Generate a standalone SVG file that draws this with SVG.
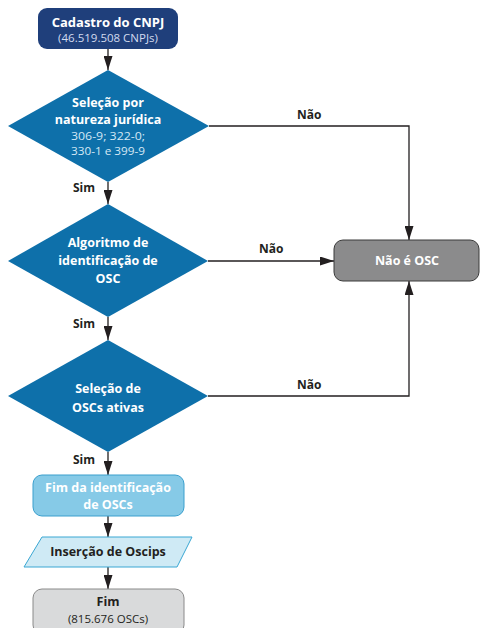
<svg xmlns="http://www.w3.org/2000/svg" width="480" height="628" viewBox="0 0 480 628">
<defs>
<style>
.t{font-family:"Open Sans","Noto Sans","Liberation Sans",sans-serif;text-anchor:middle}
.b{font-weight:bold}
.w{fill:#ffffff}
.k{fill:#231f20}
.lbl{font-family:"Open Sans","Noto Sans","Liberation Sans",sans-serif;font-weight:bold;font-size:12px;fill:#231f20}
.dia{fill:#0e70aa}
.line{fill:none;stroke:#231f20;stroke-width:1.3}
</style>
<marker id="ah" markerWidth="14" markerHeight="9" refX="14" refY="4.5" orient="auto" markerUnits="userSpaceOnUse">
<path d="M0,0 L14,4.5 L0,9 Z" fill="#231f20"/>
</marker>
</defs>
<rect width="480" height="628" fill="#ffffff"/>

<g id="connectors">
<path class="line" d="M108,49 V70" marker-end="url(#ah)"/>
<path class="line" d="M108,182 V204" marker-end="url(#ah)"/>
<path class="line" d="M108,317 V340" marker-end="url(#ah)"/>
<path class="line" d="M108,452 V475" marker-end="url(#ah)"/>
<path class="line" d="M108,516 V537" marker-end="url(#ah)"/>
<path class="line" d="M108,567 V589" marker-end="url(#ah)"/>
<path class="line" d="M209,126 H409 V240" marker-end="url(#ah)"/>
<path class="line" d="M208,261 H334" marker-end="url(#ah)"/>
<path class="line" d="M208,396 H409 V281" marker-end="url(#ah)"/>
<text class="lbl" x="73" y="192">Sim</text>
<text class="lbl" x="73" y="328">Sim</text>
<text class="lbl" x="73" y="464">Sim</text>
<text class="lbl" x="297" y="119">Não</text>
<text class="lbl" x="259" y="253">Não</text>
<text class="lbl" x="297" y="389">Não</text>
</g>

<g id="cadastro">
<rect x="38" y="8" width="140" height="41" rx="9" fill="#1f3f7b"/>
<text class="t b w" x="108" y="27" font-size="13">Cadastro do CNPJ</text>
<text class="t" x="108" y="42" font-size="11.5" fill="#d2dbef">(46.519.508 CNPJs)</text>
</g>

<g id="selecao-natureza">
<polygon class="dia" points="108,70 209,126 108,182 8,126"/>
<text class="t b w" x="108" y="107" font-size="12.5">Seleção por</text>
<text class="t b w" x="108" y="124" font-size="12.5">natureza jurídica</text>
<text class="t" x="108" y="140" font-size="11.5" fill="#d5e8f5" textLength="74" lengthAdjust="spacingAndGlyphs">306-9; 322-0;</text>
<text class="t" x="108" y="155" font-size="11.5" fill="#d5e8f5" textLength="74" lengthAdjust="spacingAndGlyphs">330-1 e 399-9</text>
</g>

<g id="algoritmo">
<polygon class="dia" points="108,204 208,261 108,317 8,261"/>
<text class="t b w" x="108" y="247" font-size="12.5">Algoritmo de</text>
<text class="t b w" x="108" y="265" font-size="12.5">identificação de</text>
<text class="t b w" x="108" y="283" font-size="12.5">OSC</text>
</g>

<g id="selecao-ativas">
<polygon class="dia" points="108,340 208,396 108,452 8,396"/>
<text class="t b w" x="108" y="393" font-size="12.5">Seleção de</text>
<text class="t b w" x="108" y="412" font-size="12.5">OSCs ativas</text>
</g>

<g id="nao-osc">
<rect x="334" y="240" width="145" height="41" rx="9" fill="#8b8b8c" stroke="#3a3a3a" stroke-width="1"/>
<text class="t b w" x="407" y="265" font-size="12.5">Não é OSC</text>
</g>

<g id="fim-identificacao">
<rect x="33" y="475" width="151" height="41" rx="9" fill="#86cae7" stroke="#3a9fcd" stroke-width="1"/>
<text class="t b w" x="108" y="492" font-size="12.5">Fim da identificação</text>
<text class="t b w" x="108" y="509" font-size="12.5">de OSCs</text>
</g>

<g id="insercao">
<polygon points="42,537 192,537 177,567 24,567" fill="#cfeaf5" stroke="#3aa7d3" stroke-width="1"/>
<text class="t b k" x="108" y="556" font-size="12.5">Inserção de Oscips</text>
</g>

<g id="fim">
<rect x="33" y="589" width="151" height="45" rx="9" fill="#d9dadb" stroke="#8a8a8a" stroke-width="1"/>
<text class="t b k" x="108" y="606" font-size="12.5">Fim</text>
<text class="t k" x="108" y="623" font-size="11.5">(815.676 OSCs)</text>
</g>
</svg>
